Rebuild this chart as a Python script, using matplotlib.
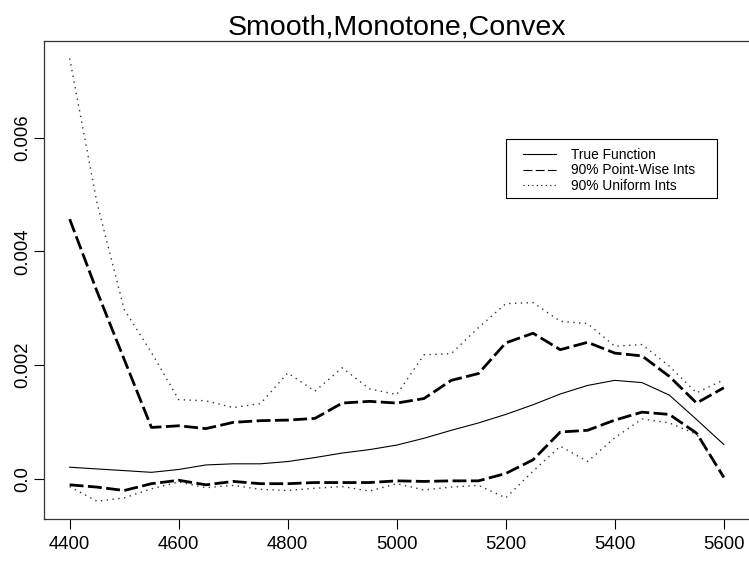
import matplotlib
matplotlib.use("Agg")
import matplotlib.pyplot as plt
from matplotlib.lines import Line2D
from matplotlib.patches import Rectangle

x = [4400, 4450, 4500, 4550, 4600, 4650, 4700, 4750, 4800, 4850, 4900, 4950, 5000,
     5050, 5100, 5150, 5200, 5250, 5300, 5350, 5400, 5450, 5500, 5550, 5600]

true_fn = [0.00020, 0.00017, 0.00014, 0.00011, 0.00016, 0.00024, 0.00026, 0.00026, 0.00030,
           0.00037, 0.00045, 0.00051, 0.00059, 0.00071, 0.00085, 0.00098, 0.00113, 0.00130,
           0.00149, 0.00164, 0.00173, 0.00169, 0.00147, 0.00104, 0.00060]

pw_upper = [0.00457, 0.00330, 0.00210, 0.00090, 0.00093, 0.00088, 0.00099, 0.00102, 0.00103,
            0.00106, 0.00133, 0.00136, 0.00133, 0.00141, 0.00173, 0.00185, 0.00239, 0.00256,
            0.00227, 0.00240, 0.00221, 0.00216, 0.00180, 0.00133, 0.00160]

pw_lower = [-0.00011, -0.00015, -0.00021, -0.00009, -0.00003, -0.00011, -0.00005, -0.00009,
            -0.00009, -0.00007, -0.00007, -0.00007, -0.00004, -0.00005, -0.00004, -0.00004,
            0.00009, 0.00033, 0.00082, 0.00085, 0.00103, 0.00117, 0.00113, 0.00080, 0.00002]

un_upper = [0.00740, 0.00486, 0.00298, 0.00222, 0.00139, 0.00137, 0.00125, 0.00132, 0.00186,
            0.00154, 0.00195, 0.00158, 0.00148, 0.00218, 0.00220, 0.00266, 0.00308, 0.00310,
            0.00277, 0.00273, 0.00233, 0.00236, 0.00198, 0.00151, 0.00174]

un_lower = [-0.00014, -0.00040, -0.00034, -0.00018, -0.00006, -0.00016, -0.00012, -0.00019,
            -0.00021, -0.00017, -0.00014, -0.00022, -0.00009, -0.00020, -0.00015, -0.00012,
            -0.00034, 0.00013, 0.00057, 0.00030, 0.00072, 0.00105, 0.00098, 0.00078, 0.00001]

x_ticks = [4400, 4600, 4800, 5000, 5200, 5400, 5600]
y_ticks = [0.0, 0.002, 0.004, 0.006]
y_tick_labels = ["0.0", "0.002", "0.004", "0.006"]
title = "Smooth,Monotone,Convex"
legend_labels = ["True Function", "90% Point-Wise Ints", "90% Uniform Ints"]

plt.rcParams['font.family'] = ['Liberation Sans', 'DejaVu Sans']

W, H = 749, 563
fig = plt.figure(figsize=(W / 100, H / 100), dpi=100)
ax = fig.add_axes([43.5 / W, 44 / H, (750 - 43.5) / W, (522.3 - 44) / H])

dash = (0, (5, 1.6))
dot = (0, (1, 3.2))
ax.plot(x, true_fn, color='black', lw=0.8)
ax.plot(x, pw_upper, color='black', lw=2.0, linestyle=dash)
ax.plot(x, pw_lower, color='black', lw=2.0, linestyle=dash)
ax.plot(x, un_upper, color='#333333', lw=1.0, linestyle=dot)
ax.plot(x, un_lower, color='#333333', lw=1.0, linestyle=dot)

ymin = min(min(un_lower), min(pw_lower))
ymax = max(max(un_upper), max(pw_upper))
yr = ymax - ymin
ax.set_ylim(ymin - 0.04 * yr, ymax + 0.04 * yr)
xr = x[-1] - x[0]
ax.set_xlim(x[0] - 0.04 * xr, x[-1] + 0.04 * xr)

ax.set_xticks(x_ticks)
ax.set_xticklabels([str(t) for t in x_ticks])
ax.set_yticks(y_ticks)
ax.set_yticklabels(y_tick_labels, rotation=90, va='center')
ax.tick_params(axis='both', direction='out', length=7, width=0.8, labelsize=13.3)
ax.tick_params(axis='x', pad=5)
ax.tick_params(axis='y', pad=2)
for s in ax.spines.values():
    s.set_linewidth(0.9)
    s.set_color('#333333')

ax.set_title(title, fontsize=20.5, pad=4)

# legend frame drawn in figure pixels
fig.patches.append(Rectangle((506 / W, (563 - 198.3) / H), (716.7 - 506) / W, (198.3 - 139.3) / H,
                             transform=fig.transFigure, facecolor='white', edgecolor='black',
                             linewidth=0.8, zorder=5))

handles = [
    Line2D([], [], color='black', lw=0.8),
    Line2D([], [], color='black', lw=0.8, linestyle=(0, (8, 3))),
    Line2D([], [], color='black', lw=0.8, linestyle=(0, (1, 3))),
]
leg = fig.legend(handles, legend_labels, loc='center left',
                 bbox_to_anchor=(523 / W, (563 - 170.5) / H), bbox_transform=fig.transFigure,
                 fontsize=9.9, frameon=False, handlelength=2.4,
                 handletextpad=1.1, labelspacing=0.12, borderpad=0, borderaxespad=0)
leg.set_zorder(6)

fig.savefig("out.png", dpi=100)
